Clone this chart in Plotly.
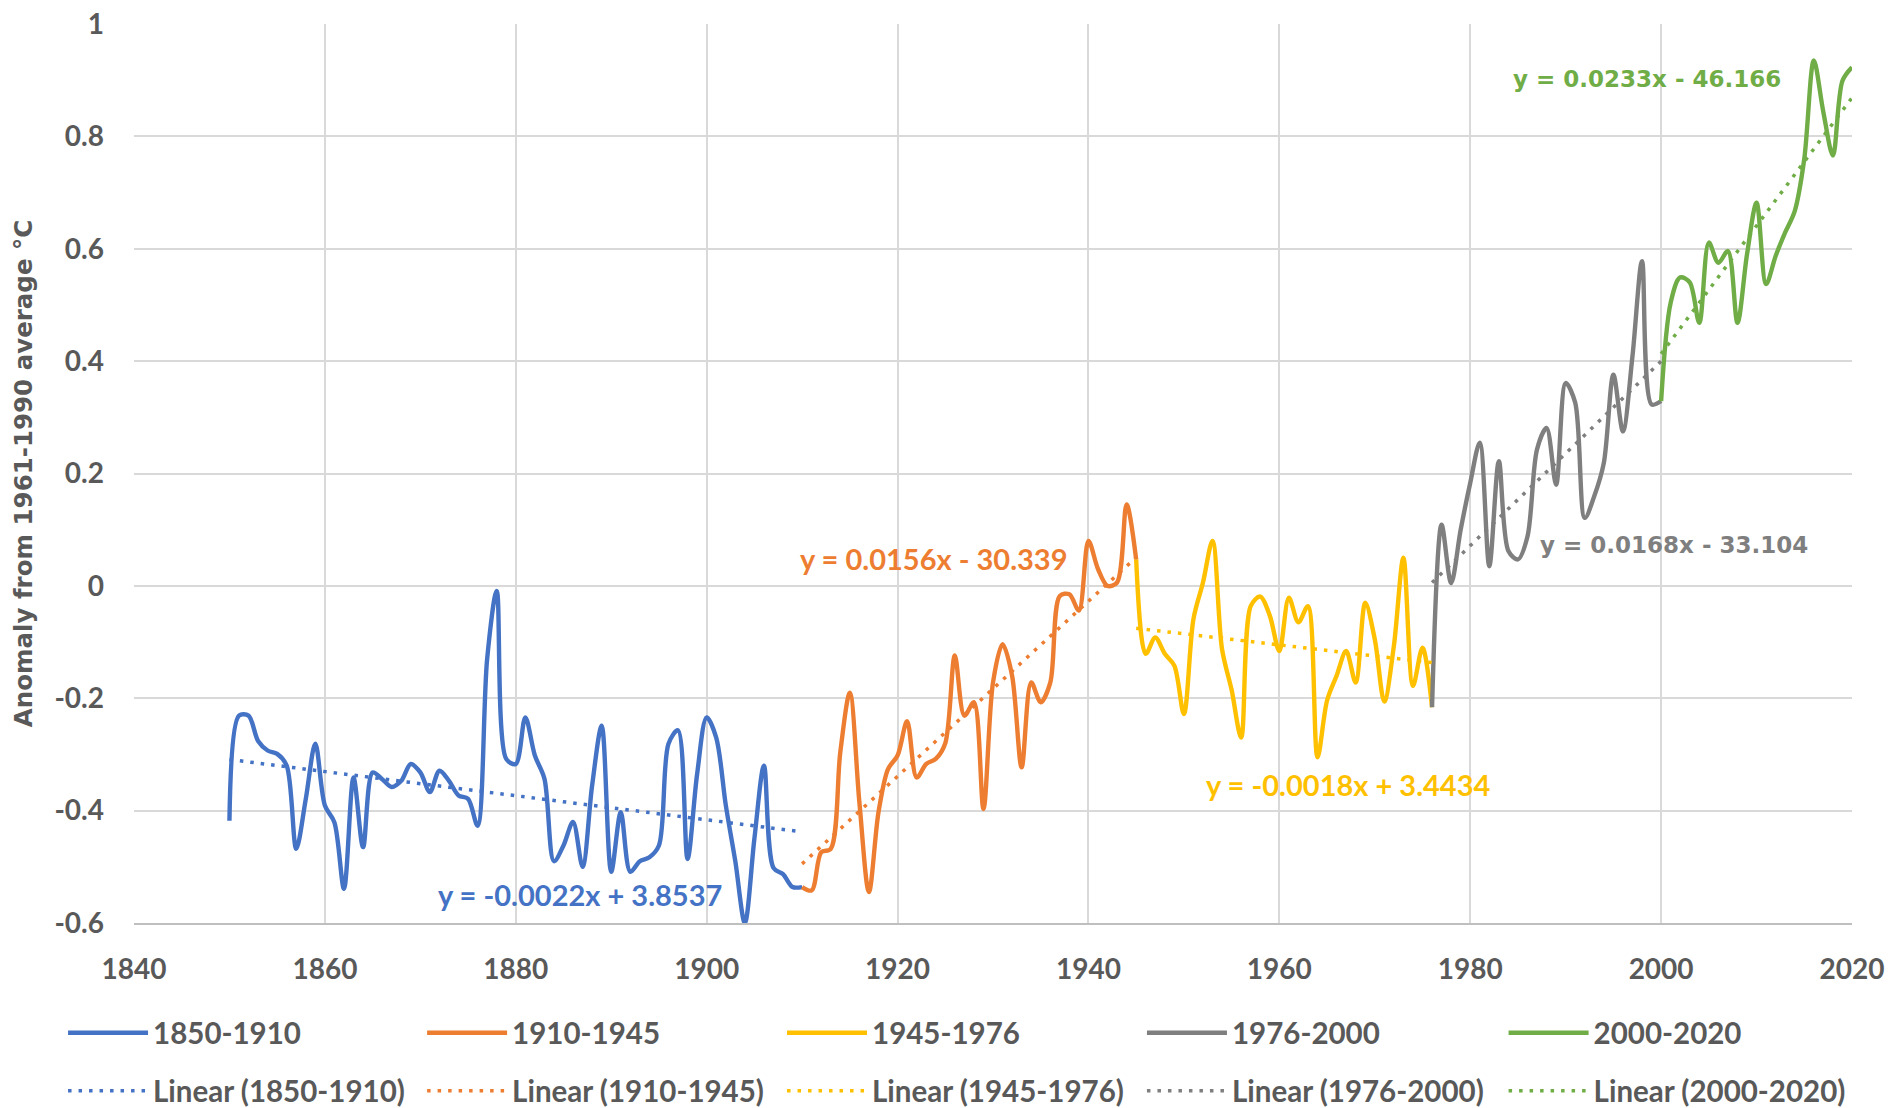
import numpy as np
import plotly.graph_objects as go

# ---------------- data (anomaly °C vs 1961-1990) ----------------
years_1850_1910 = list(range(1850, 1911))
anom_1850_1910 = [
    -0.418, -0.231, -0.231, -0.276, -0.293, -0.299, -0.320, -0.468, -0.379, -0.281,
    -0.391, -0.421, -0.539, -0.341, -0.465, -0.332, -0.344, -0.358, -0.347, -0.317,
    -0.332, -0.367, -0.329, -0.347, -0.373, -0.379, -0.427, -0.130, -0.009, -0.308,
    -0.317, -0.234, -0.302, -0.343, -0.490, -0.462, -0.420, -0.500, -0.355, -0.249,
    -0.509, -0.403, -0.509, -0.490, -0.483, -0.462, -0.281, -0.257, -0.486, -0.335,
    -0.234, -0.270, -0.390, -0.490, -0.600, -0.450, -0.320, -0.502, -0.513, -0.536,
    -0.536,
]

years_1910_1945 = list(range(1910, 1946))
anom_1910_1945 = [
    -0.536, -0.542, -0.474, -0.468, -0.296, -0.190, -0.385, -0.545, -0.403, -0.326,
    -0.302, -0.241, -0.341, -0.317, -0.308, -0.280, -0.124, -0.231, -0.207, -0.397,
    -0.172, -0.104, -0.160, -0.323, -0.172, -0.207, -0.172, -0.018, -0.015, -0.044,
    0.080, 0.030, 0.000, 0.006, 0.145, 0.047,
]

years_1945_1976 = list(range(1945, 1977))
anom_1945_1976 = [
    0.047, -0.121, -0.092, -0.121, -0.142, -0.228, -0.059, 0.006, 0.080, -0.113,
    -0.185, -0.270, -0.036, -0.019, -0.053, -0.116, -0.021, -0.065, -0.036, -0.305,
    -0.204, -0.160, -0.116, -0.172, -0.030, -0.095, -0.206, -0.107, 0.050, -0.178,
    -0.110, -0.216,
]

years_1976_2000 = list(range(1976, 2001))
anom_1976_2000 = [
    -0.216, 0.109, 0.005, 0.100, 0.183, 0.255, 0.035, 0.222, 0.062, 0.047,
    0.088, 0.243, 0.281, 0.180, 0.361, 0.326, 0.121, 0.160, 0.219, 0.376,
    0.275, 0.409, 0.578, 0.323, 0.329,
]

years_2000_2020 = list(range(2000, 2021))
anom_2000_2020 = [
    0.329, 0.504, 0.549, 0.540, 0.468, 0.611, 0.575, 0.596, 0.468, 0.590,
    0.682, 0.537, 0.587, 0.629, 0.667, 0.760, 0.935, 0.843, 0.766, 0.899,
    0.923,
]

period_names = ["1850-1910", "1910-1945", "1945-1976", "1976-2000", "2000-2020"]
period_colors = ["#4472C4", "#ED7D31", "#FFC000", "#7F7F7F", "#70AD47"]
period_years = [years_1850_1910, years_1910_1945, years_1945_1976, years_1976_2000, years_2000_2020]
period_values = [anom_1850_1910, anom_1910_1945, anom_1945_1976, anom_1976_2000, anom_2000_2020]

# trendline equation labels as printed on the chart
equation_texts = [
    "y = -0.0022x + 3.8537",
    "y = 0.0156x - 30.339",
    "y = -0.0018x + 3.4434",
    "y = 0.0168x - 33.104",
    "y = 0.0233x - 46.166",
]
equation_pos_x = [1886.7, 1923.8, 1967.2, 2001.4, 1998.5]
equation_pos_y = [-0.549, 0.048, -0.354, 0.073, 0.902]
equation_fonts = ["Lato", "Lato", "Lato", "DejaVu Sans", "DejaVu Sans"]
equation_sizes = [29, 29, 29, 23, 23]

x_ticks = [1840, 1860, 1880, 1900, 1920, 1940, 1960, 1980, 2000, 2020]
y_ticks = [-0.6, -0.4, -0.2, 0, 0.2, 0.4, 0.6, 0.8, 1]
y_tick_text = ["-0.6", "-0.4", "-0.2", "0", "0.2", "0.4", "0.6", "0.8", "1"]

# legend column positions (paper x) and row positions (paper y)
legend_cols = [-0.0413, 0.1677, 0.3772, 0.5867, 0.7972]
legend_rows = [-0.1224, -0.1869]

TEXT_GRAY = "#595959"
GRID = "#d9d9d9"

fig = go.Figure()

legend_layouts = {}
leg_font = dict(family="Lato", size=29.5, color=TEXT_GRAY, weight="bold")

# smoothed series lines
for i, (name, yrs, vals, col) in enumerate(zip(period_names, period_years, period_values, period_colors)):
    lid = "legend" if i == 0 else f"legend{i + 1}"
    fig.add_trace(go.Scatter(
        x=yrs, y=vals, mode="lines", name=name,
        line=dict(color=col, width=4.4, shape="spline", smoothing=0.9),
        legend=lid,
    ))
    legend_layouts[lid] = dict(x=legend_cols[i], y=legend_rows[0])

# linear trendlines (least squares fit on each period)
for i, (name, yrs, vals, col) in enumerate(zip(period_names, period_years, period_values, period_colors)):
    lid = f"legend{i + 6}"
    slope, intercept = np.polyfit(np.array(yrs, dtype=float), np.array(vals, dtype=float), 1)
    xs = [yrs[0], yrs[-1]]
    ys = [slope * xs[0] + intercept, slope * xs[1] + intercept]
    fig.add_trace(go.Scatter(
        x=xs, y=ys, mode="lines", name=f"Linear ({name})",
        line=dict(color=col, width=3.5, dash="3.5px,7px"),
        legend=lid, hoverinfo="skip",
    ))
    legend_layouts[lid] = dict(x=legend_cols[i], y=legend_rows[1])

for lid, pos in legend_layouts.items():
    fig.update_layout({lid: dict(
        x=pos["x"], y=pos["y"], xanchor="left", yanchor="middle",
        orientation="h", font=leg_font, itemwidth=80,
        bgcolor="rgba(0,0,0,0)",
    )})

annotations = []
for txt, ax, ay, col, fam, sz in zip(equation_texts, equation_pos_x, equation_pos_y,
                                     period_colors, equation_fonts, equation_sizes):
    annotations.append(dict(
        x=ax, y=ay, xref="x", yref="y", text=txt, showarrow=False,
        xanchor="center", yanchor="middle",
        font=dict(family=fam, size=sz, color=col, weight="bold"),
    ))

fig.update_layout(
    width=1888, height=1108, autosize=False,
    margin=dict(l=134, r=36, t=24, b=185, autoexpand=False),
    paper_bgcolor="white", plot_bgcolor="white",
    showlegend=True,
    annotations=annotations,
    xaxis=dict(
        range=[1840, 2020], tickmode="array", tickvals=x_ticks,
        showgrid=True, gridcolor=GRID, gridwidth=1.5,
        showline=True, linecolor="#bfbfbf", linewidth=2,
        zeroline=False, ticks="", ticklabelstandoff=20, automargin=False,
        tickfont=dict(family="Lato", size=28, color=TEXT_GRAY, weight="bold"),
    ),
    yaxis=dict(
        range=[-0.6, 1], tickmode="array", tickvals=y_ticks, ticktext=y_tick_text,
        showgrid=True, gridcolor=GRID, gridwidth=1.5,
        zeroline=False, showline=False, ticks="", ticklabelstandoff=29, automargin=False,
        tickfont=dict(family="Lato", size=28, color=TEXT_GRAY, weight="bold"),
        title=dict(text="Anomaly from 1961-1990 average °C", standoff=14,
                   font=dict(family="DejaVu Sans", size=24.5, color=TEXT_GRAY, weight="bold")),
    ),
)

# remove the browser's default 8px page margin so the 1888x1108 figure fills the window exactly
fig.write_html(
    "out.html",
    config={"displayModeBar": False},
    post_script="document.body.style.margin='0';document.body.style.overflow='hidden';",
)
